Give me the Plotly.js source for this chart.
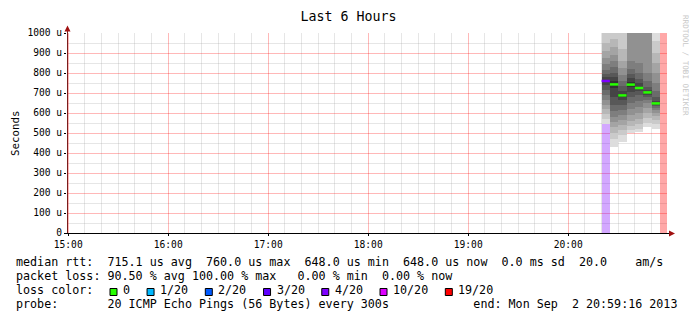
<!DOCTYPE html>
<html><head><meta charset="utf-8">
<script src="https://cdn.plot.ly/plotly-3.0.1.min.js"></script>
<style>html,body{margin:0;padding:0;background:#fff;}#chart{width:697px;height:321px;}</style>
</head><body><div id="chart"></div>
<script>
// ---------------- data ----------------
const slotStarts = ["2013-09-02 20:20:00","2013-09-02 20:25:00","2013-09-02 20:30:00","2013-09-02 20:35:00","2013-09-02 20:40:00","2013-09-02 20:45:00","2013-09-02 20:50:00"];
// 20 sorted ping round-trip times per 5-minute slot (microseconds)
const pingsSlot1 = [543,570,595,620,642,665,690,715,740,755,765,778,795,815,845,873,910,950,1010,1080];
const pingsSlot2 = [432,470,500,530,555,580,610,640,680,725,760,780,800,830,860,890,930,970,1050,1150];
const pingsSlot3 = [457,490,515,540,565,590,615,640,665,680,696,712,735,760,790,825,860,920,1010,1100];
const pingsSlot4 = [498,515,535,560,590,620,650,680,705,728,756,775,795,820,860,1010,1100,1200,1300,1400];
const pingsSlot5 = [507,522,545,570,600,630,660,688,708,718,732,748,770,800,850,1010,1100,1200,1300,1400];
const pingsSlot6 = [532,550,575,600,625,648,665,680,692,699,707,716,732,758,800,1010,1100,1200,1300,1400];
const pingsSlot7 = [520,545,565,585,600,615,625,635,642,646,650,660,680,710,750,800,850,900,960,1050];
const pings = [pingsSlot1,pingsSlot2,pingsSlot3,pingsSlot4,pingsSlot5,pingsSlot6,pingsSlot7];
const medians = [760,743,688,742,725,703,648];
const medianLoss = [4,0,0,0,0,0,0];
const lossSlots = ["2013-09-02 20:20:00","2013-09-02 20:55:00"];
const lossSlotLevels = [4,19];
const lossLevels = [0,1,2,3,4,10,19];
const lossLabels = ["0","1/20","2/20","3/20","4/20","10/20","19/20"];
const lossColors = ["#26ff00","#00b8ff","#0059ff","#5e00ff","#7e00ff","#dd00ff","#ff0000"];
const yTickVals = [0,100,200,300,400,500,600,700,800,900,1000];
const yTickText = ["0","100 u","200 u","300 u","400 u","500 u","600 u","700 u","800 u","900 u","1000 u"];
const legendLine1 = "median rtt:  715.1 us avg  760.0 us max  648.0 us min  648.0 us now  0.0 ms sd  20.0    am/s";
const legendLine2 = "packet loss: 90.50 % avg 100.00 % max   0.00 % min  0.00 % now";
const legendLine3 = "loss color:";
const legendLine4 = "probe:       20 ICMP Echo Pings (56 Bytes) every 300s            end: Mon Sep  2 20:59:16 2013";
const titleText = "Last 6 Hours";
const yTitle = "Seconds";
const credit = "RRDTOOL / TOBI OETIKER";
const xStart = "2013-09-02 14:59:16", xEnd = "2013-09-02 20:59:16";
const yMax = 1000;

// ---------------- helpers ----------------
const W = 697, H = 321, L = 67, R = 30, T = 33, B = 88;
const PW = W - L - R, PH = H - T - B;
const px = x => (x - L) / PW;
const py = y => (H - B - y) / PH;
const mono = "DejaVu Sans Mono, monospace";
const nb = s => s.replace(/ /g, "\u00a0");
const STEP = 300000;
function addSec(s, sec) {
  const d = new Date(s.replace(" ", "T") + "Z");
  d.setUTCSeconds(d.getUTCSeconds() + sec);
  return d.toISOString().slice(0, 19).replace("T", " ");
}
function colorFor(level) { return lossColors[lossLevels.indexOf(level)]; }
function rgba(hex, a) {
  const n = parseInt(hex.slice(1), 16);
  return `rgba(${(n>>16)&255},${(n>>8)&255},${n&255},${a})`;
}

// ---------------- traces ----------------
const traces = [];
// loss background
traces.push({
  type: "bar", x: lossSlots, base: lossSlots.map(() => 0), y: lossSlots.map(() => yMax),
  width: STEP, offset: 0,
  marker: { color: lossSlotLevels.map(l => rgba(colorFor(l), 0.34)), line: { width: 0 } },
  hoverinfo: "skip", showlegend: false
});
// smoke bands
const n = 20;
for (let k = 0; k < n - 1; k++) {
  const band = k + 1;
  const layer = Math.min(band, n - band);
  const c = Math.floor(190 / (n / 2) * (n / 2 - layer)) + 50;
  traces.push({
    type: "bar", x: slotStarts,
    base: pings.map(p => p[k]), y: pings.map(p => p[k + 1] - p[k]),
    width: STEP, offset: 0,
    marker: { color: `rgb(${c},${c},${c})`, line: { width: 0 } },
    hoverinfo: "skip", showlegend: false
  });
}
// median segments grouped by loss color
const levelsUsed = [...new Set(medianLoss)];
levelsUsed.forEach(lv => {
  const xs = [], ys = [];
  slotStarts.forEach((s, i) => {
    if (medianLoss[i] !== lv) return;
    xs.push(s, addSec(s, STEP / 1000), null);
    ys.push(medians[i], medians[i], null);
  });
  traces.push({
    type: "scatter", mode: "lines", x: xs, y: ys,
    line: { color: colorFor(lv), width: 2.5 }, connectgaps: false,
    hoverinfo: "skip", showlegend: false
  });
});

// ---------------- annotations & shapes ----------------
const ann = [];
const shapes = [];
const lf = { family: mono, size: 11.7, color: "#000" };
const cw = 7.06;
const lineY = [261.5, 275.5, 289.5, 303.5];
[legendLine1, legendLine2, legendLine3, legendLine4].forEach((t, i) => {
  ann.push({ text: nb(t), xref: "paper", yref: "paper", x: px(15), y: py(lineY[i]),
    xanchor: "left", yanchor: "middle", showarrow: false, font: lf, borderpad: 0 });
});
let sx = 110;
lossLabels.forEach((lab, i) => {
  shapes.push({ type: "rect", xref: "paper", yref: "paper",
    x0: px(sx), x1: px(sx + 7), y0: py(295.5), y1: py(288.5),
    fillcolor: lossColors[i], line: { color: "#000", width: 1 } });
  ann.push({ text: nb(lab), xref: "paper", yref: "paper", x: px(sx + 12), y: py(lineY[2]),
    xanchor: "left", yanchor: "middle", showarrow: false, font: lf, borderpad: 0 });
  sx = sx + 13 + lab.length * cw + 17;
});
ann.push({ text: yTitle, xref: "paper", yref: "paper", x: px(15), y: py(133), textangle: -90,
  xanchor: "center", yanchor: "middle", showarrow: false,
  font: { family: mono, size: 10.8, color: "#000" } });
ann.push({ text: nb(credit), xref: "paper", yref: "paper", x: px(686), y: py(65), textangle: 90,
  xanchor: "center", yanchor: "middle", showarrow: false,
  font: { family: mono, size: 7.6, color: "#c8c8c8" } });

const arrowCol = "#a01010";
// axis lines
shapes.push({ type: "line", xref: "paper", yref: "paper", x0: px(67.5), x1: px(67.5), y0: py(233.5), y1: py(29),
  line: { color: "#7a1c1c", width: 1 } });
shapes.push({ type: "line", xref: "paper", yref: "paper", x0: px(64), x1: px(671), y0: py(233.5), y1: py(233.5),
  line: { color: "#000", width: 1 } });
function pathPx(pts) {
  return pts.map((p, i) => (i ? "L" : "M") + px(p[0]) + "," + py(p[1])).join(" ") + " Z";
}
shapes.push({ type: "path", xref: "paper", yref: "paper",
  path: pathPx([[67.5, 25.5], [64.5, 31.5], [70.5, 31.5]]), fillcolor: arrowCol, line: { width: 0 } });
shapes.push({ type: "path", xref: "paper", yref: "paper",
  path: pathPx([[675, 233.5], [669, 230.5], [669, 236.5]]), fillcolor: arrowCol, line: { width: 0 } });

const layout = {
  width: W, height: H,
  margin: { l: L, r: R, t: T, b: B, pad: 0 },
  paper_bgcolor: "#fff", plot_bgcolor: "#fff",
  title: { text: titleText, font: { family: mono, size: 13.3, color: "#000" },
    x: 0.5, xref: "container", xanchor: "center", y: 1 - 16 / H, yref: "container", yanchor: "middle" },
  barmode: "overlay", bargap: 0,
  showlegend: false, hovermode: false,
  xaxis: {
    type: "date", range: [xStart, xEnd], fixedrange: true,
    tickmode: "linear", tick0: "2013-09-02 15:00:00", dtick: 3600000, tickformat: "%H:%M",
    showgrid: true, gridcolor: "rgba(255,0,0,0.28)", gridwidth: 1,
    minor: { dtick: 600000, tick0: "2013-09-02 15:00:00", showgrid: true, gridcolor: "rgba(160,160,160,0.26)", gridwidth: 1, ticks: "" },
    ticks: "outside", ticklen: 2, tickcolor: "#000",
    tickfont: { family: mono, size: 9.6, color: "#000" },
    showline: false, zeroline: false
  },
  yaxis: {
    range: [0, yMax], fixedrange: true,
    tickmode: "array", tickvals: yTickVals, ticktext: yTickText,
    showgrid: true, gridcolor: "rgba(255,0,0,0.28)", gridwidth: 1,
    minor: { tickvals: yTickVals.slice(0, -1).map(v => v + 50), showgrid: true, gridcolor: "rgba(160,160,160,0.26)", gridwidth: 1, ticks: "" },
    ticks: "outside", ticklen: 2, tickcolor: "#000",
    tickfont: { family: mono, size: 9.6, color: "#000" },
    showline: false, zeroline: false
  },
  annotations: ann, shapes: shapes
};
Plotly.newPlot("chart", traces, layout, { displayModeBar: false, staticPlot: true });
</script></body></html>
